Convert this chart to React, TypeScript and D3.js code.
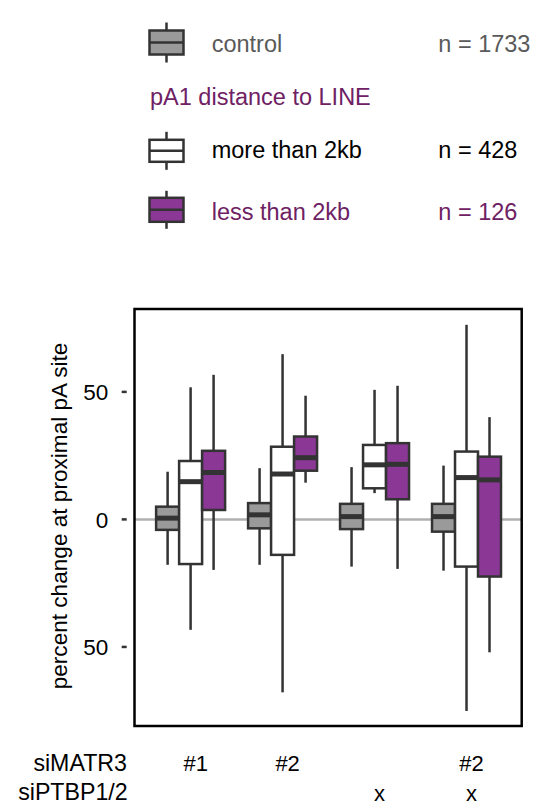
import React from "react";
import * as d3 from "d3";

// ---- data ----
const groups = [1, 2, 3, 4];
const seriesNames = ["control", "more than 2kb", "less than 2kb"];
const seriesCounts = ["n = 1733", "n = 428", "n = 126"];
// [lower whisker, q1, median, q3, upper whisker] per group
const controlStats = [
  [-17.8, -4.1, 0.5, 5.0, 18.7],
  [-17.8, -3.5, 1.8, 6.4, 20.1],
  [-18.5, -3.8, 1.1, 6.1, 20.5],
  [-20.1, -4.8, 1.1, 6.1, 21.1],
];
const moreStats = [
  [-43.3, -17.5, 14.8, 22.9, 51.8],
  [-67.8, -13.9, 17.8, 28.5, 64.8],
  [10.3, 12.2, 21.4, 29.2, 50.8],
  [-75.1, -18.5, 16.4, 26.6, 76.3],
];
const lessStats = [
  [-19.8, 3.7, 18.4, 26.9, 56.7],
  [14.4, 19.1, 24.2, 32.5, 48.5],
  [-19.4, 7.9, 21.6, 29.9, 52.4],
  [-52.1, -22.4, 15.5, 24.6, 40.1],
];
const yTicks = [50, 0, -50];
const yTickLabels = ["50", "0", "50"];
const matrLabels = ["#1", "#2", "", "#2"];
const ptbLabels = ["", "", "x", "x"];
const legendTitle = "pA1 distance to LINE";
const yTitle = "percent change at proximal pA site";

const FONT = "'Liberation Sans', Arial, Helvetica, sans-serif";
const fills = ["#9a9a9a", "#ffffff", "#8b3795"];
const textColors = ["#5a5a5a", "#000000", "#6e2163"];
const STROKE = "#333333";

export default function App() {
  const W = 534, H = 807;
  const left = 134.5, right = 521.7, top = 309, bottom = 726;
  const x = d3.scaleLinear().domain([0.39, 4.6]).range([left, right]);
  const y = d3.scaleLinear().domain([-81, 82.5]).range([bottom, top]);
  const dodge = 0.25;
  const boxW = x(dodge) - x(0);
  const allStats = [controlStats, moreStats, lessStats];

  const legendRows = [
    { i: 0, cy: 42.5, h: 24, wh: 40, base: 51.7 },
    { i: 1, cy: 150.8, h: 22, wh: 38, base: 158.3 },
    { i: 2, cy: 209.8, h: 24, wh: 38, base: 220 },
  ];

  return (
    <svg width={W} height={H} style={{ position: "absolute", left: 0, top: 0, display: "block" }}
      fontFamily={FONT}>
      <rect width={W} height={H} fill="#fff" />
      {/* legend */}
      {legendRows.map((r) => (
        <g key={r.i}>
          <line x1={166.5} x2={166.5} y1={r.cy - r.wh / 2} y2={r.cy + r.wh / 2} stroke={STROKE} strokeWidth={2.5} />
          <rect x={149.5} y={r.cy - r.h / 2} width={34} height={r.h} fill={fills[r.i]} stroke={STROKE} strokeWidth={2.5} />
          <line x1={149.5} x2={183.5} y1={r.cy} y2={r.cy} stroke={STROKE} strokeWidth={2.5} />
          <text x={211.7} y={r.base} fontSize={23.5} fill={textColors[r.i]}>{seriesNames[r.i]}</text>
          <text x={438.3} y={r.base} fontSize={23.5} fill={textColors[r.i]}>{seriesCounts[r.i]}</text>
        </g>
      ))}
      <text x={150} y={105} fontSize={23.5} fill={textColors[2]}>{legendTitle}</text>

      {/* zero line */}
      <line x1={left} x2={right} y1={y(0)} y2={y(0)} stroke="#b0b0b0" strokeWidth={2.5} />

      {/* boxes */}
      {groups.map((g, gi) => (
        <g key={g}>
          {allStats.map((st, si) => {
            const [lo, q1, med, q3, hi] = st[gi];
            const cx = x(g + (si - 1) * dodge);
            return (
              <g key={si}>
                <line x1={cx} x2={cx} y1={y(q3)} y2={y(hi)} stroke={STROKE} strokeWidth={2.5} />
                <line x1={cx} x2={cx} y1={y(q1)} y2={y(lo)} stroke={STROKE} strokeWidth={2.5} />
                <rect x={cx - boxW / 2} y={y(q3)} width={boxW} height={y(q1) - y(q3)}
                  fill={fills[si]} stroke={STROKE} strokeWidth={2.5} />
                <line x1={cx - boxW / 2} x2={cx + boxW / 2} y1={y(med)} y2={y(med)} stroke={STROKE} strokeWidth={5} />
              </g>
            );
          })}
        </g>
      ))}

      {/* panel border */}
      <rect x={left} y={top} width={right - left} height={bottom - top} fill="none" stroke="#000" strokeWidth={2.5} />

      {/* y axis */}
      {yTicks.map((t, i) => (
        <g key={i}>
          <line x1={121.7} x2={126.7} y1={y(t)} y2={y(t)} stroke={STROKE} strokeWidth={2.5} />
          <text x={108.3} y={y(t)} dy="0.36em" textAnchor="end" fontSize={22.5} fill="#000">{yTickLabels[i]}</text>
        </g>
      ))}
      <text transform={`translate(66.5,516) rotate(-90)`} textAnchor="middle" fontSize={22.6} fill="#000">{yTitle}</text>

      {/* bottom annotation */}
      <text x={127} y={770.5} textAnchor="end" fontSize={23.2} fill="#000">siMATR3</text>
      <text x={127.7} y={799.5} textAnchor="end" fontSize={23.2} fill="#000">siPTBP1/2</text>
      {groups.map((g, gi) => (
        <g key={g}>
          <text x={x(g + 0.055)} y={770.5} textAnchor="middle" fontSize={22} fill="#000">{matrLabels[gi]}</text>
          <text x={x(g + 0.055)} y={801} textAnchor="middle" fontSize={22} fill="#000">{ptbLabels[gi]}</text>
        </g>
      ))}
    </svg>
  );
}
